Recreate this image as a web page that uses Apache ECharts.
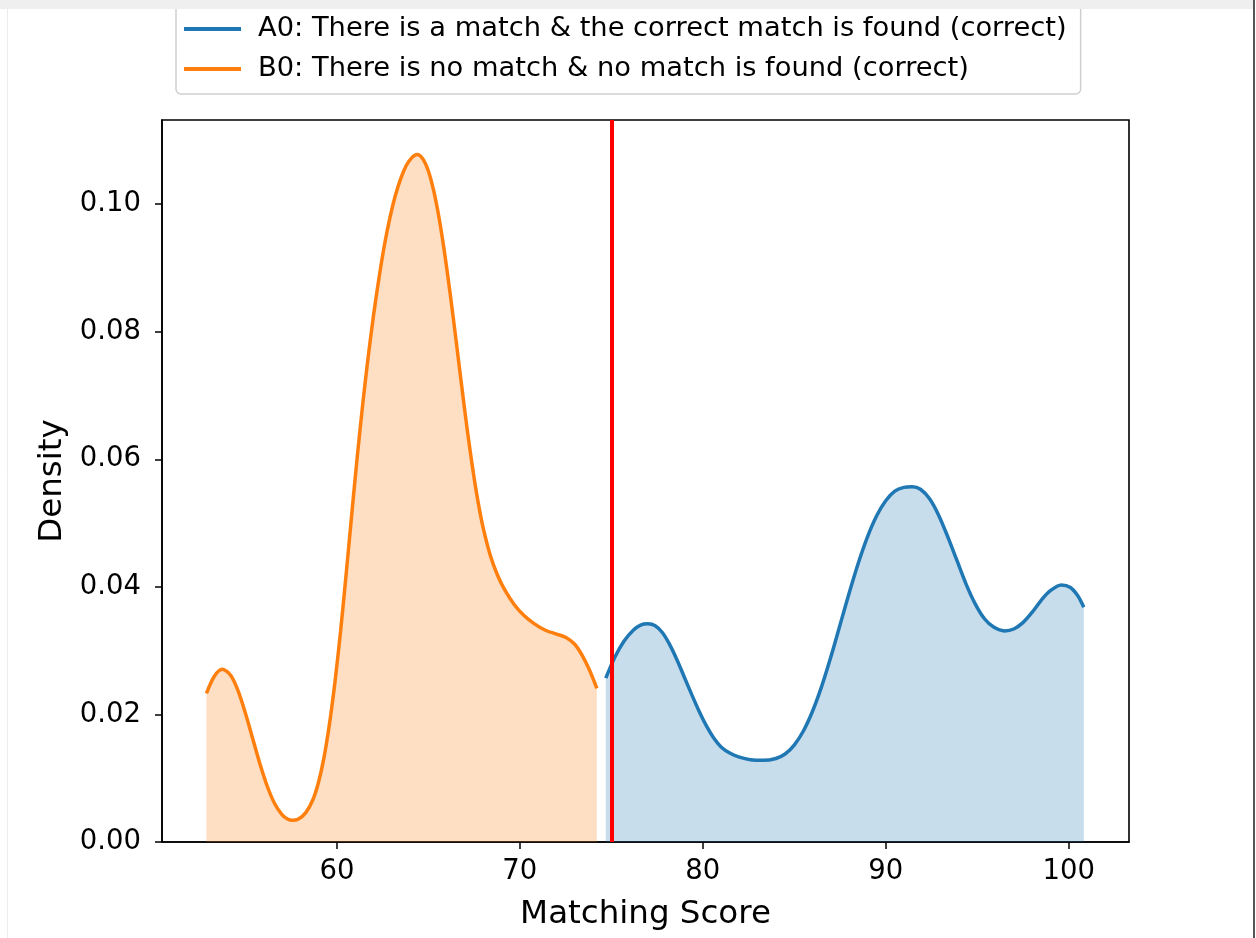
<!DOCTYPE html>
<html>
<head>
<meta charset="utf-8">
<title>Matching Score Density</title>
<script src="https://cdn.jsdelivr.net/npm/echarts@6/dist/echarts.min.js"></script>
<style>
  html, body { margin: 0; padding: 0; background: #ffffff; }
  #chart { width: 1256px; height: 938px; }
</style>
</head>
<body>
<div id="chart"></div>
<script>
// Kernel density estimate of matching scores, one curve per outcome group
const seriesNames = [
  'A0: There is a match & the correct match is found (correct)',
  'B0: There is no match & no match is found (correct)'
];

// A0 density curve (scores above the threshold)
const a0Scores = [74.7, 75.2, 75.7, 76.2, 76.6, 77.0, 77.4, 77.8, 78.2, 78.6,
  79.0, 79.4, 79.8, 80.2, 80.6, 81.0, 81.5, 82.0, 82.6, 83.3,
  84.0, 84.5, 85.0, 85.5, 86.0, 86.5, 87.0, 87.5, 88.0, 88.5,
  89.0, 89.5, 90.0, 90.5, 91.0, 91.45, 91.9, 92.4, 92.9, 93.4,
  93.9, 94.4, 94.9, 95.4, 95.9, 96.5, 97.0, 97.5, 98.0, 98.5,
  99.0, 99.6, 100.1, 100.5, 100.83];
const a0Density = [0.0257, 0.0290, 0.0315, 0.0332, 0.0340, 0.0342, 0.0339, 0.0328, 0.0309, 0.0285,
  0.0258, 0.0231, 0.0205, 0.0182, 0.0163, 0.0149, 0.0139, 0.0133, 0.0129, 0.0128,
  0.0131, 0.0138, 0.0152, 0.0174, 0.0205, 0.0244, 0.0290, 0.0340, 0.0390, 0.0437,
  0.0478, 0.0511, 0.0535, 0.0550, 0.0556, 0.0557, 0.0553, 0.0538, 0.0512, 0.0478,
  0.0441, 0.0404, 0.0373, 0.0350, 0.0337, 0.0331, 0.0334, 0.0344, 0.0360, 0.0379,
  0.0394, 0.0403, 0.0399, 0.0386, 0.0368];

// B0 density curve (scores below the threshold)
const b0Scores = [52.87, 53.3, 53.74, 54.2, 54.6, 55.0, 55.4, 55.8, 56.2, 56.6,
  57.0, 57.3, 57.56, 57.9, 58.3, 58.7, 59.0, 59.3, 59.6, 59.9,
  60.2, 60.5, 60.8, 61.1, 61.4, 61.7, 62.0, 62.3, 62.6, 62.9,
  63.2, 63.5, 63.8, 64.1, 64.38, 64.7, 65.0, 65.3, 65.6, 65.9,
  66.2, 66.5, 66.8, 67.1, 67.4, 67.7, 68.0, 68.4, 68.8, 69.2,
  69.7, 70.2, 70.8, 71.4, 72.0, 72.5, 73.0, 73.4, 73.8, 74.21];
const b0Density = [0.0233, 0.0260, 0.0271, 0.0261, 0.0237, 0.0202, 0.0162, 0.0122, 0.0087, 0.0060,
  0.0043, 0.0036, 0.0034, 0.0036, 0.0046, 0.0067, 0.0094, 0.0133, 0.0186, 0.0252,
  0.0330, 0.0418, 0.0510, 0.0600, 0.0683, 0.0758, 0.0825, 0.0884, 0.0936, 0.0979,
  0.1014, 0.1041, 0.1061, 0.1073, 0.1078, 0.1071, 0.1052, 0.1020, 0.0976, 0.0921,
  0.0858, 0.0790, 0.0720, 0.0652, 0.0590, 0.0536, 0.0492, 0.0448, 0.0417, 0.0394,
  0.0372, 0.0356, 0.0342, 0.0332, 0.0326, 0.0321, 0.0310, 0.0293, 0.0270, 0.0241];

// Decision threshold on the matching score
const threshold = 75;

// Tick labels
const xTicks = [60, 70, 80, 90, 100];
const yTicks = [0, 0.02, 0.04, 0.06, 0.08, 0.10];

const blue = '#1f77b4';
const orange = '#ff7f0e';
const font = 'DejaVu Sans';

const toPairs = (xs, ys) => xs.map((x, i) => [x, ys[i]]);

const chart = echarts.init(document.getElementById('chart'), null, { renderer: 'canvas' });

chart.setOption({
  animation: false,
  backgroundColor: '#ffffff',
  textStyle: { fontFamily: font },
  grid: {
    left: 162, right: 127, top: 120, bottom: 96,
    show: true, borderColor: '#000000', borderWidth: 1.6, backgroundColor: 'transparent'
  },
  legend: {
    orient: 'vertical',
    left: 176,
    top: -8,
    padding: [22, 14, 10, 8],
    itemGap: 10,
    itemWidth: 57,
    itemHeight: 4,
    icon: 'rect',
    borderColor: '#cfcfcf',
    borderWidth: 1.5,
    borderRadius: 5,
    backgroundColor: '#ffffff',
    textStyle: { fontFamily: font, fontSize: 27.3, lineHeight: 30, color: '#000', padding: [0, 0, 0, 12] },
    data: seriesNames
  },
  xAxis: {
    type: 'value',
    min: 50.44,
    max: 103.3,
    name: 'Matching Score',
    nameLocation: 'middle',
    nameGap: 56,
    nameTextStyle: { fontFamily: font, fontSize: 32.5, color: '#000' },
    axisLine: { show: true, lineStyle: { color: '#000', width: 1.6 } },
    axisTick: { show: true, inside: false, length: 7, customValues: xTicks, lineStyle: { color: '#000', width: 1.5 } },
    axisLabel: { customValues: xTicks, fontFamily: font, fontSize: 27.5, color: '#000', margin: 16 },
    splitLine: { show: false }
  },
  yAxis: {
    type: 'value',
    min: 0,
    max: 0.1132,
    name: 'Density',
    nameLocation: 'middle',
    nameGap: 87,
    nameTextStyle: { fontFamily: font, fontSize: 32.5, color: '#000' },
    axisLine: { show: true, lineStyle: { color: '#000', width: 1.6 } },
    axisTick: { show: true, inside: false, length: 7, customValues: yTicks, lineStyle: { color: '#000', width: 1.5 } },
    axisLabel: {
      customValues: yTicks, fontFamily: font, fontSize: 27.5, color: '#000', margin: 21,
      formatter: v => v.toFixed(2)
    },
    splitLine: { show: false }
  },
  series: [
    {
      name: seriesNames[0],
      type: 'line',
      data: toPairs(a0Scores, a0Density),
      smooth: 0.3,
      symbol: 'none',
      color: blue,
      lineStyle: { color: blue, width: 3.5 },
      areaStyle: { color: blue, opacity: 0.25 },
      z: 2
    },
    {
      name: seriesNames[1],
      type: 'line',
      data: toPairs(b0Scores, b0Density),
      smooth: 0.3,
      symbol: 'none',
      color: orange,
      lineStyle: { color: orange, width: 3.5 },
      areaStyle: { color: orange, opacity: 0.25 },
      z: 2,
      markLine: {
        silent: true,
        symbol: ['none', 'none'],
        label: { show: false },
        lineStyle: { color: '#ff0000', width: 4, type: 'solid' },
        data: [{ xAxis: threshold }],
        z: 5
      }
    }
  ],
  graphic: [
    { type: 'rect', z: 100, shape: { x: 0, y: 0, width: 1254, height: 9 }, style: { fill: '#efefef' } },
    { type: 'line', z: 100, shape: { x1: 7.5, y1: 9, x2: 7.5, y2: 938 }, style: { stroke: '#ececec', lineWidth: 1 } },
    { type: 'line', z: 100, shape: { x1: 1254, y1: 0, x2: 1254, y2: 938 }, style: { stroke: '#555555', lineWidth: 2 } }
  ]
});
</script>
</body>
</html>
